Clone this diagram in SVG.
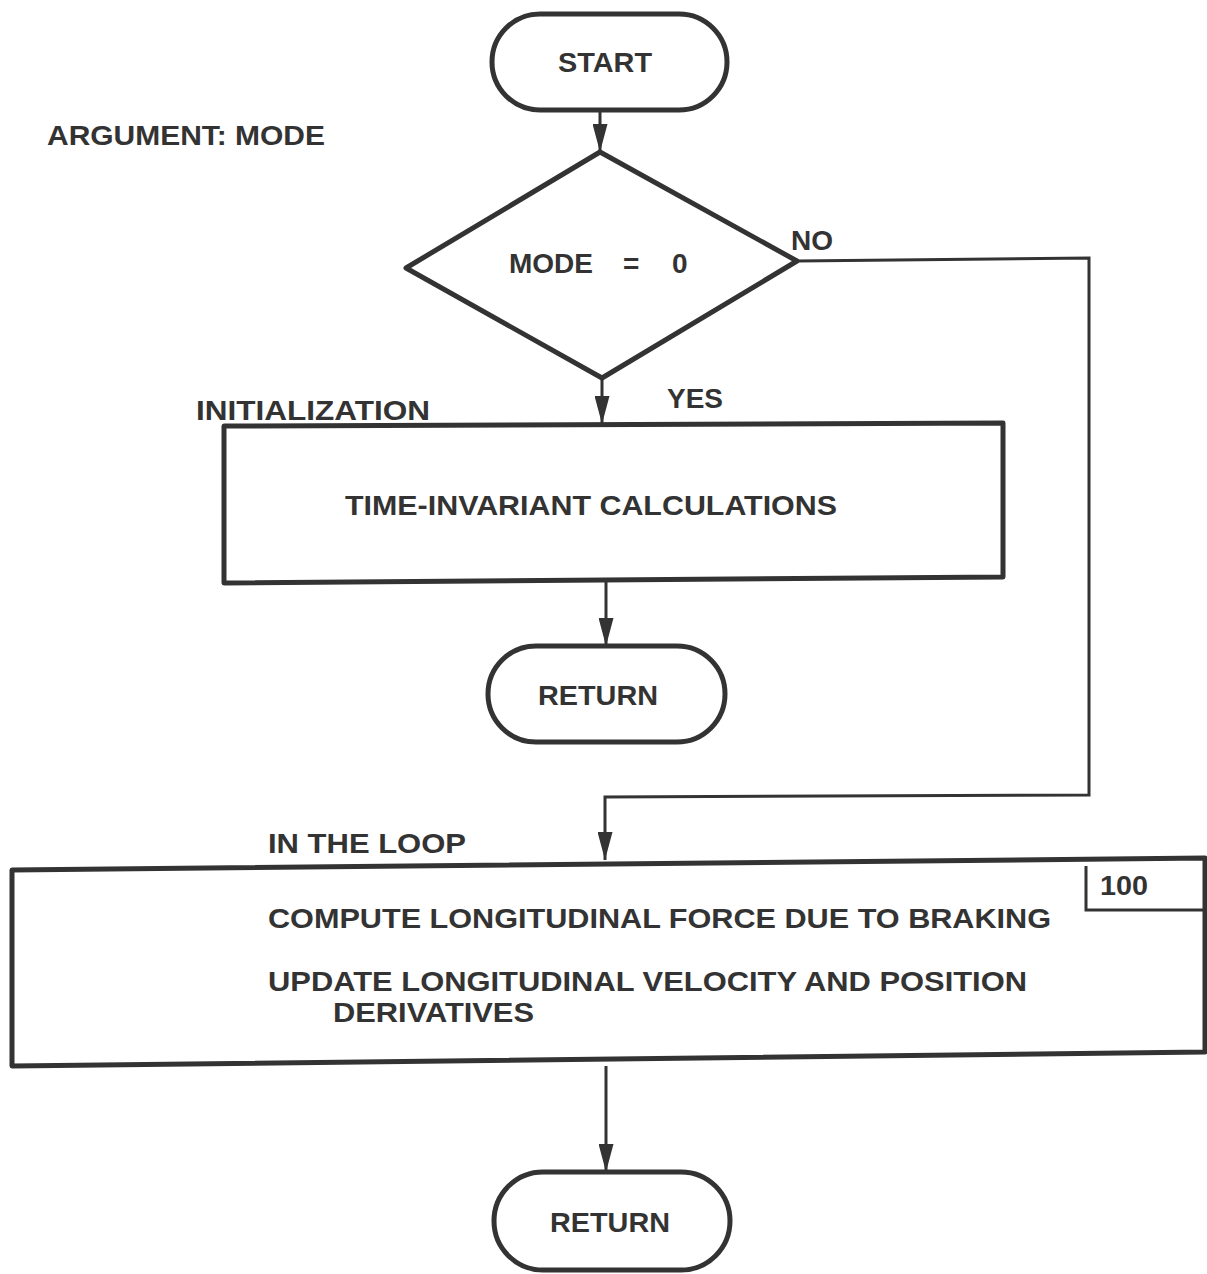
<svg xmlns="http://www.w3.org/2000/svg" width="1207" height="1274" viewBox="0 0 1207 1274">
<defs>
<style>
.shape{fill:#fff;stroke:#333;stroke-width:5;stroke-linejoin:round}
.conn{fill:none;stroke:#333;stroke-width:3}
.t{font-family:"Liberation Sans",Arial,sans-serif;font-weight:bold;font-size:28px;fill:#333}
</style>
<marker id="arr" markerWidth="28" markerHeight="15" refX="28" refY="7.5" orient="auto" markerUnits="userSpaceOnUse" viewBox="0 0 28 15">
<path d="M0,0 L28,7.5 L0,15 Z" fill="#333"/>
</marker>
</defs>
<rect width="1207" height="1274" fill="#fff"/>
<g id="connectors">
<line class="conn" x1="600" y1="110" x2="600" y2="152" marker-end="url(#arr)"/>
<line class="conn" x1="602" y1="378" x2="602" y2="424" marker-end="url(#arr)"/>
<line class="conn" x1="606" y1="580" x2="606" y2="646" marker-end="url(#arr)"/>
<polyline class="conn" points="797,261 1089,258 1089,795 605,797 605,860" marker-end="url(#arr)"/>
<line class="conn" x1="606" y1="1066" x2="606" y2="1172" marker-end="url(#arr)"/>
</g>
<g id="start">
<rect class="shape" x="492" y="14" width="235" height="96" rx="48"/>
<text class="t" x="558" y="72" textLength="94" lengthAdjust="spacingAndGlyphs">START</text>
</g>
<text class="t" x="47" y="145" textLength="278" lengthAdjust="spacingAndGlyphs">ARGUMENT:  MODE</text>
<g id="decision">
<polygon class="shape" points="600,152 797,261 602,378 406,268"/>
<text class="t" x="509" y="273" textLength="84" lengthAdjust="spacingAndGlyphs">MODE</text>
<text class="t" x="623" y="273">=</text>
<text class="t" x="672" y="273">0</text>
<text class="t" x="791" y="250">NO</text>
<text class="t" x="667" y="408">YES</text>
</g>
<g id="init">
<text class="t" x="196" y="420" textLength="234" lengthAdjust="spacingAndGlyphs">INITIALIZATION</text>
<polygon class="shape" points="224,426 1003,423 1003,577 224,583"/>
<text class="t" x="345" y="515" textLength="492" lengthAdjust="spacingAndGlyphs">TIME-INVARIANT  CALCULATIONS</text>
</g>
<g id="return1">
<rect class="shape" x="488" y="646" width="237" height="96" rx="48"/>
<text class="t" x="538" y="705" textLength="120" lengthAdjust="spacingAndGlyphs">RETURN</text>
</g>
<g id="loop">
<text class="t" x="268" y="853" textLength="198" lengthAdjust="spacingAndGlyphs">IN THE  LOOP</text>
<polygon class="shape" points="12,870 1205,858 1205,1052 12,1066"/>
<polyline class="conn" points="1086,866 1086,910 1205,910"/>
<text class="t" x="1100" y="895" textLength="48" lengthAdjust="spacingAndGlyphs">100</text>
<text class="t" x="268" y="928" textLength="783" lengthAdjust="spacingAndGlyphs">COMPUTE  LONGITUDINAL  FORCE  DUE  TO  BRAKING</text>
<text class="t" x="268" y="991" textLength="759" lengthAdjust="spacingAndGlyphs">UPDATE  LONGITUDINAL  VELOCITY  AND  POSITION</text>
<text class="t" x="333" y="1022" textLength="201" lengthAdjust="spacingAndGlyphs">DERIVATIVES</text>
</g>
<g id="return2">
<rect class="shape" x="494" y="1172" width="236" height="98" rx="49"/>
<text class="t" x="550" y="1232" textLength="120" lengthAdjust="spacingAndGlyphs">RETURN</text>
</g>
</svg>
